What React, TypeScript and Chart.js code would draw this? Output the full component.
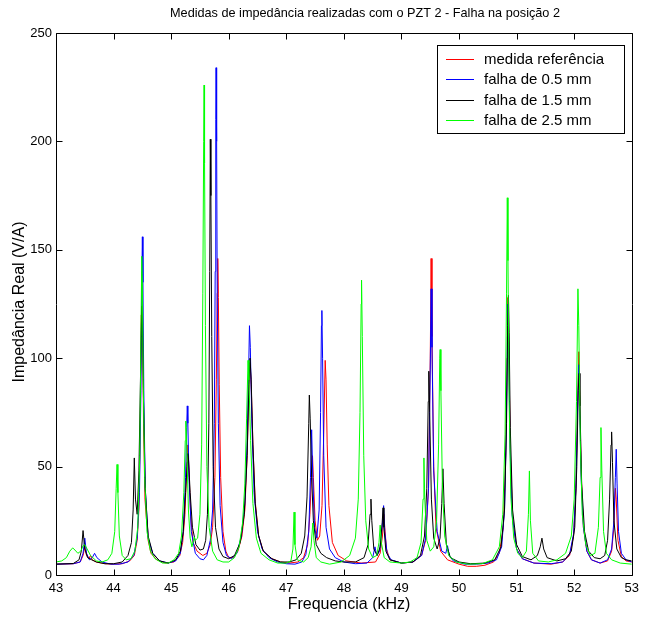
import React, { useEffect, useRef } from "react";
import { Chart, registerables } from "chart.js";

Chart.register(...registerables);

const TITLE = "Medidas de impedância realizadas com o PZT 2 - Falha na posição 2";
const X_LABEL = "Frequencia (kHz)";
const Y_LABEL = "Impedância Real (V/A)";
const SERIES_NAMES = ["medida referência", "falha de 0.5 mm", "falha de 1.5 mm", "falha de 2.5 mm"];
const SERIES_COLORS = ["#ff0000", "#0000ff", "#000000", "#00ff00"];
const X_TICKS = [43, 44, 45, 46, 47, 48, 49, 50, 51, 52, 53];
const Y_TICKS = [0, 50, 100, 150, 200, 250];

type P = [number, number];

const refPoints: P[] = [
  [43.0, 5], [43.3, 5.2], [43.42, 6], [43.47, 9], [43.5, 13], [43.53, 9], [43.57, 7.5], [43.6, 9], [43.63, 7], [43.7, 6],
  [43.85, 5.2], [44.0, 5], [44.15, 5.2], [44.28, 6.5], [44.36, 9], [44.41, 16], [44.44, 30], [44.465, 70], [44.48, 120],
  [44.49, 140], [44.505, 115], [44.52, 70], [44.545, 35], [44.57, 26], [44.585, 25], [44.6, 16], [44.65, 10], [44.75, 7],
  [44.9, 5.5], [45.05, 6], [45.15, 9], [45.2, 15], [45.24, 28], [45.27, 50], [45.29, 60], [45.31, 48], [45.34, 27],
  [45.38, 15], [45.45, 11], [45.55, 9], [45.62, 10], [45.68, 14], [45.72, 22], [45.76, 45], [45.785, 90], [45.8, 130],
  [45.81, 146], [45.82, 128], [45.835, 88], [45.86, 45], [45.9, 20], [45.95, 11], [46.0, 8], [46.08, 8], [46.16, 11],
  [46.23, 18], [46.28, 30], [46.32, 55], [46.35, 85], [46.37, 98], [46.39, 88], [46.42, 60], [46.46, 34], [46.52, 18],
  [46.6, 11], [46.75, 7.5], [46.9, 6], [47.05, 5.5], [47.2, 6], [47.3, 8], [47.37, 14], [47.41, 28], [47.44, 48],
  [47.455, 55], [47.47, 45], [47.5, 25], [47.54, 16], [47.58, 18], [47.62, 32], [47.65, 65], [47.675, 99], [47.69, 90],
  [47.71, 60], [47.74, 32], [47.8, 15], [47.9, 9], [48.05, 6.5], [48.3, 5.5], [48.55, 6], [48.63, 10], [48.67, 18],
  [48.695, 28], [48.71, 22], [48.74, 12], [48.8, 7], [49.0, 5.5], [49.2, 6], [49.35, 9], [49.42, 16], [49.47, 40],
  [49.5, 100], [49.515, 146], [49.53, 110], [49.56, 50], [49.6, 22], [49.68, 11], [49.8, 7], [50.0, 5], [50.15, 4],
  [50.3, 4], [50.45, 4.5], [50.6, 6], [50.7, 10], [50.77, 22], [50.81, 55], [50.835, 100], [50.85, 128], [50.865, 105],
  [50.89, 58], [50.93, 26], [51.0, 12], [51.1, 7.5], [51.3, 5.5], [51.6, 5], [51.8, 6], [51.92, 9], [51.99, 18],
  [52.03, 40], [52.06, 80], [52.08, 103], [52.095, 85], [52.12, 48], [52.16, 22], [52.22, 11], [52.3, 7], [52.45, 5.5],
  [52.58, 6.5], [52.65, 11], [52.69, 22], [52.715, 40], [52.73, 35], [52.76, 16], [52.82, 8.5], [52.9, 6.5], [53.0, 6],
];

const fault05Points: P[] = [
  [43.0, 5], [43.3, 5.2], [43.42, 6], [43.47, 10], [43.5, 17], [43.53, 10], [43.58, 7], [43.63, 8], [43.67, 10],
  [43.71, 8], [43.8, 6], [43.95, 5], [44.1, 5], [44.25, 6], [44.35, 9], [44.41, 17], [44.45, 38], [44.475, 85],
  [44.49, 135], [44.5, 156], [44.51, 135], [44.525, 85], [44.55, 40], [44.6, 17], [44.68, 10], [44.8, 6.5], [44.95, 5.5],
  [45.08, 6.5], [45.16, 10], [45.21, 20], [45.25, 45], [45.27, 68], [45.28, 78], [45.29, 70], [45.31, 45], [45.35, 20],
  [45.42, 10], [45.5, 7.5], [45.56, 7], [45.62, 9], [45.68, 16], [45.72, 30], [45.75, 70], [45.765, 140], [45.775, 210],
  [45.78, 234], [45.79, 200], [45.8, 130], [45.82, 70], [45.85, 32], [45.9, 15], [45.96, 9], [46.05, 7.5], [46.14, 10],
  [46.22, 18], [46.28, 33], [46.32, 62], [46.35, 100], [46.36, 115], [46.375, 105], [46.4, 72], [46.44, 38], [46.5, 20],
  [46.58, 12], [46.7, 8], [46.85, 6], [47.0, 5.2], [47.15, 5], [47.27, 6], [47.34, 9.5], [47.39, 20], [47.42, 45],
  [47.44, 67], [47.46, 45], [47.49, 22], [47.53, 17], [47.57, 30], [47.595, 75], [47.61, 115], [47.618, 122],
  [47.63, 100], [47.65, 55], [47.69, 22], [47.75, 12], [47.85, 8], [48.0, 6], [48.2, 5.2], [48.4, 5.5], [48.5, 8],
  [48.54, 13], [48.57, 9], [48.62, 11], [48.665, 22], [48.69, 32], [48.71, 20], [48.75, 10], [48.82, 7], [49.0, 5.5],
  [49.2, 6], [49.35, 9], [49.42, 17], [49.47, 40], [49.5, 95], [49.515, 132], [49.53, 105], [49.56, 48], [49.62, 20],
  [49.7, 11], [49.77, 10], [49.8, 13.5], [49.83, 9], [49.9, 6.5], [50.1, 5], [50.3, 5], [50.5, 5.5], [50.65, 7],
  [50.74, 13], [50.79, 30], [50.82, 65], [50.84, 110], [50.85, 125], [50.862, 108], [50.885, 60], [50.92, 28], [51.0, 12],
  [51.1, 7.5], [51.3, 5.5], [51.6, 5.2], [51.8, 6], [51.92, 9.5], [51.99, 19], [52.03, 40], [52.06, 78], [52.08, 97],
  [52.095, 80], [52.12, 45], [52.16, 22], [52.22, 11], [52.3, 7], [52.45, 5.5], [52.58, 7], [52.65, 12], [52.69, 25],
  [52.715, 45], [52.73, 58], [52.745, 42], [52.77, 20], [52.82, 10], [52.9, 7], [53.0, 6],
];

const fault15Points: P[] = [
  [43.0, 5], [43.3, 5.3], [43.4, 7], [43.44, 11], [43.47, 20.5], [43.5, 12], [43.55, 8], [43.62, 7], [43.7, 6],
  [43.85, 5.2], [44.0, 5.2], [44.15, 6], [44.25, 9], [44.31, 15], [44.34, 30], [44.36, 54], [44.38, 35], [44.41, 28],
  [44.44, 48], [44.47, 95], [44.49, 124], [44.5, 118], [44.52, 80], [44.55, 40], [44.6, 18], [44.68, 10], [44.8, 6.5],
  [44.95, 5.5], [45.08, 7], [45.16, 11], [45.21, 20], [45.25, 38], [45.28, 52], [45.29, 56], [45.3, 54], [45.33, 38],
  [45.37, 22], [45.43, 14], [45.5, 11.5], [45.56, 12], [45.6, 16], [45.63, 28], [45.655, 70], [45.67, 140], [45.68, 201],
  [45.69, 175], [45.705, 110], [45.73, 50], [45.77, 22], [45.83, 12], [45.9, 8.5], [46.0, 7.5], [46.1, 9], [46.2, 15],
  [46.27, 28], [46.32, 55], [46.35, 88], [46.37, 100], [46.39, 90], [46.42, 60], [46.46, 33], [46.52, 18], [46.6, 11],
  [46.75, 7.5], [46.9, 6], [47.05, 6], [47.17, 7], [47.26, 10], [47.32, 18], [47.36, 36], [47.39, 70], [47.4, 83],
  [47.415, 72], [47.44, 45], [47.47, 25], [47.52, 14], [47.6, 10], [47.7, 8], [47.85, 6.5], [48.0, 6], [48.2, 6],
  [48.35, 8], [48.42, 14], [48.455, 28], [48.47, 35], [48.485, 25], [48.52, 12], [48.58, 9], [48.63, 13], [48.665, 24],
  [48.68, 31], [48.695, 22], [48.73, 11], [48.8, 7], [49.0, 5.5], [49.2, 6], [49.33, 9], [49.4, 18], [49.44, 40],
  [49.465, 80], [49.475, 94], [49.49, 75], [49.52, 35], [49.56, 17], [49.62, 12], [49.67, 17], [49.7, 33], [49.72, 49],
  [49.74, 33], [49.78, 14], [49.85, 8], [50.0, 6], [50.2, 5.2], [50.45, 5.5], [50.62, 7], [50.73, 13], [50.79, 30],
  [50.825, 70], [50.845, 115], [50.858, 129], [50.87, 112], [50.89, 68], [50.93, 30], [51.0, 14], [51.1, 8.5],
  [51.25, 7], [51.36, 9], [51.41, 13], [51.44, 17], [51.47, 12], [51.53, 8], [51.7, 6.5], [51.85, 7.5], [51.95, 11],
  [52.01, 22], [52.045, 50], [52.07, 85], [52.085, 93], [52.1, 78], [52.13, 42], [52.18, 20], [52.25, 11], [52.35, 8],
  [52.45, 7.5], [52.53, 9], [52.58, 16], [52.615, 35], [52.64, 60], [52.65, 66], [52.665, 52], [52.69, 25], [52.74, 12],
  [52.82, 8], [52.9, 7], [53.0, 6.5],
];

const fault25Points: P[] = [
  [43.0, 6], [43.1, 6.5], [43.18, 8], [43.24, 11], [43.29, 12.5], [43.33, 11.5], [43.38, 10], [43.43, 11], [43.47, 13.5],
  [43.5, 14], [43.54, 12], [43.6, 9], [43.7, 6.5], [43.8, 6], [43.9, 7], [43.97, 10], [44.02, 20], [44.045, 40],
  [44.06, 51], [44.075, 38], [44.1, 18], [44.15, 9], [44.22, 7], [44.3, 7.5], [44.37, 11], [44.42, 22], [44.455, 55],
  [44.475, 110], [44.49, 147], [44.5, 135], [44.515, 90], [44.54, 45], [44.58, 20], [44.64, 11], [44.72, 7.5],
  [44.85, 5.5], [44.95, 5.5], [45.05, 7], [45.13, 10], [45.18, 18], [45.22, 38], [45.245, 62], [45.255, 71], [45.27, 60],
  [45.3, 30], [45.33, 17], [45.36, 13], [45.39, 16], [45.4, 17.5], [45.42, 16], [45.46, 17], [45.5, 28], [45.53, 60],
  [45.55, 130], [45.565, 200], [45.572, 226], [45.58, 190], [45.595, 115], [45.62, 50], [45.66, 22], [45.72, 11],
  [45.8, 7], [45.9, 6], [46.0, 6], [46.1, 8], [46.18, 13], [46.24, 24], [46.28, 42], [46.31, 72], [46.335, 99],
  [46.35, 90], [46.38, 62], [46.42, 33], [46.48, 17], [46.56, 10], [46.7, 7], [46.85, 5.5], [47.0, 5.5], [47.08, 6.5],
  [47.115, 12], [47.135, 29], [47.15, 14], [47.19, 7], [47.3, 6], [47.38, 8], [47.43, 13], [47.46, 24], [47.48, 16],
  [47.52, 8], [47.6, 6], [47.75, 5], [47.95, 6], [48.1, 9], [48.2, 17], [48.25, 35], [48.28, 75], [48.3, 125],
  [48.307, 136], [48.32, 110], [48.345, 55], [48.38, 25], [48.43, 12], [48.5, 8], [48.57, 9], [48.61, 15], [48.63, 23],
  [48.65, 15], [48.7, 8], [48.8, 6], [49.0, 5.5], [49.15, 6], [49.27, 8], [49.34, 15], [49.375, 35], [49.39, 54],
  [49.405, 35], [49.44, 16], [49.5, 11], [49.56, 13], [49.61, 25], [49.645, 60], [49.665, 100], [49.672, 104],
  [49.685, 85], [49.71, 42], [49.75, 18], [49.82, 9], [49.95, 6], [50.15, 5], [50.4, 5.2], [50.58, 7], [50.7, 13],
  [50.76, 28], [50.8, 65], [50.825, 130], [50.838, 174], [50.85, 145], [50.87, 80], [50.9, 36], [50.95, 17], [51.02, 10],
  [51.1, 8], [51.17, 11], [51.205, 28], [51.222, 48], [51.24, 25], [51.28, 10], [51.38, 6.5], [51.55, 6], [51.7, 7],
  [51.85, 10], [51.95, 18], [52.0, 35], [52.04, 80], [52.065, 132], [52.08, 115], [52.105, 62], [52.14, 28], [52.2, 14],
  [52.28, 9], [52.36, 10], [52.42, 22], [52.45, 45], [52.465, 68], [52.48, 48], [52.51, 20], [52.56, 10], [52.65, 7],
  [52.8, 5.5], [53.0, 5],
];

const SERIES_POINTS: P[][] = [refPoints, fault05Points, fault15Points, fault25Points];

const FONT = "'Liberation Sans', Arial, Helvetica, sans-serif";

const decorPlugin = {
  id: "decor",
  afterDraw(chart: any) {
    const { ctx, chartArea: a, scales } = chart;
    const xs = scales.x;
    const ys = scales.y;
    ctx.save();
    ctx.globalAlpha = 1;
    ctx.setLineDash([]);
    ctx.strokeStyle = "#000";
    ctx.lineWidth = 1;
    const L = Math.round(a.left) + 0.5;
    const R = Math.round(a.right) + 0.5;
    const T = Math.round(a.top) + 0.5;
    const B = Math.round(a.bottom) + 0.5;
    ctx.beginPath();
    ctx.rect(L, T, R - L, B - T);
    ctx.stroke();
    const tl = 6;
    ctx.beginPath();
    X_TICKS.forEach((v) => {
      const px = Math.round(xs.getPixelForValue(v)) + 0.5;
      ctx.moveTo(px, B);
      ctx.lineTo(px, B - tl);
      ctx.moveTo(px, T);
      ctx.lineTo(px, T + tl);
    });
    Y_TICKS.forEach((v) => {
      const py = Math.round(ys.getPixelForValue(v)) + 0.5;
      ctx.moveTo(L, py);
      ctx.lineTo(L + tl, py);
      ctx.moveTo(R, py);
      ctx.lineTo(R - tl, py);
    });
    ctx.stroke();

    // title
    ctx.fillStyle = "#000";
    ctx.font = `12.7px ${FONT}`;
    ctx.textAlign = "center";
    ctx.textBaseline = "middle";
    ctx.fillText(TITLE, 365, 13);

    // axis titles
    ctx.font = `16px ${FONT}`;
    ctx.fillText(X_LABEL, 349, 605);
    ctx.save();
    ctx.translate(20, 302);
    ctx.rotate(-Math.PI / 2);
    ctx.fillText(Y_LABEL, 0, 0);
    ctx.restore();

    // legend
    const lx = 437.5, ly = 45.5, lw = 187, lh = 88;
    ctx.fillStyle = "#ffffff";
    ctx.fillRect(lx, ly, lw, lh);
    ctx.strokeStyle = "#000000";
    ctx.strokeRect(lx, ly, lw, lh);
    ctx.font = `15px ${FONT}`;
    ctx.textAlign = "left";
    ctx.textBaseline = "middle";
    SERIES_NAMES.forEach((name, i) => {
      const y = 58.5 + i * 20.6;
      ctx.fillStyle = SERIES_COLORS[i];
      ctx.fillRect(446, Math.round(y), 28, 1);
      ctx.fillStyle = "#000000";
      ctx.fillText(name, 484, y + 1);
    });
    ctx.restore();
  },
};

export default function App() {
  const ref = useRef<HTMLCanvasElement | null>(null);
  useEffect(() => {
    document.body.style.margin = "0";
    const canvas = ref.current;
    if (!canvas) return;
    const datasets = SERIES_POINTS.map((pts, i) => ({
      label: SERIES_NAMES[i],
      data: pts.map(([x, y]) => ({ x, y })),
      borderColor: SERIES_COLORS[i],
      backgroundColor: SERIES_COLORS[i],
      borderWidth: 1,
      pointRadius: 0,
      tension: 0,
      fill: false,
      order: 4 - i,
    }));
    const chart = new Chart(canvas, {
      type: "line",
      data: { datasets },
      options: {
        animation: false,
        responsive: false,
        maintainAspectRatio: false,
        events: [],
        layout: { padding: { left: 0, top: 33, right: 5, bottom: 0 } },
        plugins: { legend: { display: false }, title: { display: false }, tooltip: { enabled: false } },
        scales: {
          x: {
            type: "linear",
            min: 43,
            max: 53,
            grid: { display: false, drawTicks: false, tickLength: 0 },
            border: { display: false },
            afterBuildTicks: (s: any) => {
              s.ticks = X_TICKS.map((v) => ({ value: v }));
            },
            afterFit: (s: any) => {
              s.height = 49;
            },
            ticks: { color: "#000", font: { family: FONT, size: 13 }, padding: 6, autoSkip: false, maxRotation: 0 },
          },
          y: {
            type: "linear",
            min: 0,
            max: 250,
            grid: { display: false, drawTicks: false, tickLength: 0 },
            border: { display: false },
            afterBuildTicks: (s: any) => {
              s.ticks = Y_TICKS.map((v) => ({ value: v }));
            },
            afterFit: (s: any) => {
              s.width = 56;
            },
            ticks: { color: "#000", font: { family: FONT, size: 13 }, padding: 4 },
          },
        },
      },
      plugins: [decorPlugin],
    });
    return () => chart.destroy();
  }, []);
  return <canvas ref={ref} width={645} height={624} style={{ display: "block", width: 645, height: 624 }} />;
}
